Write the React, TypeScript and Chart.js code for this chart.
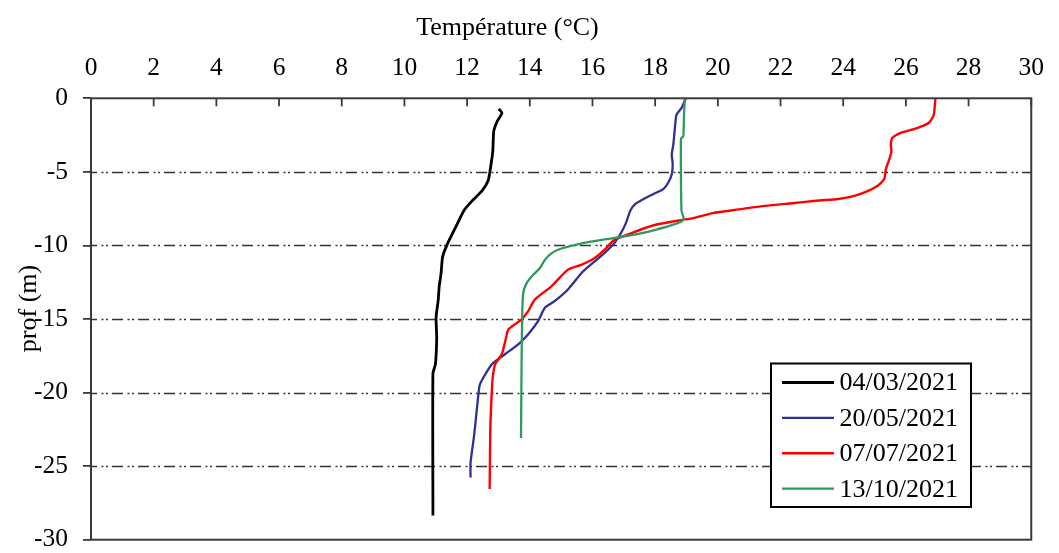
import React, { useEffect, useRef } from "react";
import { Chart, registerables } from "chart.js";

Chart.register(...registerables);

// ---- Data (temperature °C, depth m) ----
const labels = ["04/03/2021", "20/05/2021", "07/07/2021", "13/10/2021"];
const colors = ["#000000", "#303096", "#ff0000", "#2f9a5f"];

const temp0403 = [13.01, 13.11, 12.96, 12.85, 12.82, 12.74, 12.67, 12.48, 12.17, 11.9, 11.64, 11.38, 11.22, 11.17, 11.11, 11.08, 11.01, 11.03, 10.99, 10.91, 10.91];
const depth0403 = [-0.72, -1.01, -1.57, -2.25, -3.59, -4.82, -5.61, -6.28, -6.95, -7.62, -8.74, -9.86, -10.76, -11.88, -12.78, -13.68, -14.91, -16.25, -18.05, -18.72, -28.36];

const temp2005 = [18.98, 18.84, 18.68, 18.63, 18.58, 18.53, 18.56, 18.53, 18.42, 18.26, 17.95, 17.63, 17.37, 17.21, 17.06, 16.9, 16.69, 16.37, 16.06, 15.68, 15.21, 14.79, 14.48, 14.27, 13.95, 13.64, 13.22, 12.8, 12.53, 12.4, 12.32, 12.22, 12.11, 12.11];
const depth2005 = [0, -0.67, -1.12, -2.02, -3.14, -3.81, -4.49, -5.16, -5.72, -6.17, -6.5, -6.84, -7.18, -7.63, -8.52, -9.19, -9.87, -10.54, -11.1, -11.8, -13.01, -13.79, -14.24, -15.13, -16.03, -16.7, -17.38, -18.05, -18.94, -19.5, -20.96, -22.98, -24.77, -25.78];

const temp0707 = [26.94, 26.89, 26.73, 26.36, 25.84, 25.57, 25.52, 25.54, 25.47, 25.36, 25.31, 25.1, 24.68, 24.26, 23.84, 23.21, 22.37, 21.32, 20.26, 19.84, 19.21, 18.9, 17.95, 17.21, 16.69, 16.37, 16.06, 15.64, 15.21, 14.69, 14.16, 13.95, 13.74, 13.32, 13.22, 13.11, 12.9, 12.82, 12.78, 12.74, 12.72];
const depth0707 = [0, -1.12, -1.68, -2.02, -2.35, -2.69, -3.14, -3.59, -4.15, -4.82, -5.49, -5.94, -6.39, -6.68, -6.84, -6.95, -7.13, -7.36, -7.67, -7.8, -8.14, -8.25, -8.63, -9.19, -9.64, -10.32, -10.87, -11.32, -11.66, -12.78, -13.68, -14.46, -15.02, -15.7, -16.48, -17.38, -18.05, -18.94, -20.29, -22.53, -26.56];

const temp1310 = [18.95, 18.92, 18.9, 18.84, 18.82, 18.84, 18.9, 18.92, 18.68, 17.95, 17.21, 16.58, 15.64, 15.01, 14.69, 14.48, 14.32, 14.11, 13.9, 13.79, 13.76, 13.74, 13.72];
const depth1310 = [0, -1.12, -2.58, -2.69, -2.92, -7.63, -8.07, -8.25, -8.52, -8.97, -9.31, -9.53, -9.87, -10.21, -10.54, -10.99, -11.55, -12.0, -12.56, -13.23, -14.57, -17.6, -23.09];

const seriesTemps = [temp0403, temp2005, temp0707, temp1310];
const seriesDepths = [depth0403, depth2005, depth0707, depth1310];
const lineWidths = [2.8, 2.3, 2.4, 2.3];

const xTitle = "Température (°C)";
const yTitle = "prof (m)";

const FONT = '"Liberation Serif", "Times New Roman", serif';

const decorPlugin = {
  id: "decor",
  beforeDatasetsDraw(chart: any) {
    const { ctx, chartArea: a, scales } = chart;
    const ys = scales.y;
    ctx.save();
    ctx.strokeStyle = "#333333";
    ctx.lineWidth = 1.6;
    ctx.setLineDash([11, 4.5, 2, 2.5, 2, 4]);
    ctx.lineDashOffset = 5;
    for (const t of ys.ticks) {
      if (t.value <= ys.min || t.value >= ys.max) continue;
      const py = Math.round(ys.getPixelForValue(t.value)) + 0.5;
      ctx.beginPath();
      ctx.moveTo(a.left, py);
      ctx.lineTo(a.right, py);
      ctx.stroke();
    }
    ctx.restore();
  },
  afterDatasetsDraw(chart: any) {
    const { ctx, chartArea: a, scales } = chart;
    const xs = scales.x;
    ctx.save();
    // frame
    ctx.strokeStyle = "#3a3a3a";
    ctx.lineWidth = 2;
    ctx.setLineDash([]);
    ctx.strokeRect(a.left, a.top, a.right - a.left, a.bottom - a.top);
    // inward x ticks
    ctx.lineWidth = 1.8;
    for (const t of xs.ticks) {
      const px = xs.getPixelForValue(t.value);
      ctx.beginPath();
      ctx.moveTo(px, a.top);
      ctx.lineTo(px, a.top + 8);
      ctx.stroke();
    }
    // titles
    ctx.fillStyle = "#000";
    ctx.font = `26px ${FONT}`;
    ctx.textAlign = "center";
    ctx.textBaseline = "alphabetic";
    ctx.fillText(xTitle, 507.5, 35);
    ctx.save();
    ctx.translate(35.5, 308.5);
    ctx.rotate(-Math.PI / 2);
    ctx.fillText(yTitle, 0, 0);
    ctx.restore();
    // legend box
    const bx = 771, by = 363.5, bw = 200, bh = 143.5;
    ctx.fillStyle = "#fff";
    ctx.fillRect(bx, by, bw, bh);
    ctx.strokeStyle = "#000";
    ctx.lineWidth = 2;
    ctx.strokeRect(bx, by, bw, bh);
    ctx.font = `26px ${FONT}`;
    ctx.textAlign = "left";
    ctx.textBaseline = "middle";
    labels.forEach((lab, i) => {
      const ry = by + 19 + i * 35.4;
      ctx.strokeStyle = colors[i];
      ctx.lineWidth = lineWidths[i];
      ctx.beginPath();
      ctx.moveTo(bx + 11, ry);
      ctx.lineTo(bx + 63, ry);
      ctx.stroke();
      ctx.fillStyle = "#000";
      ctx.fillText(lab, bx + 68.5, ry + 1);
    });
    ctx.restore();
  },
};

export default function App() {
  const ref = useRef<HTMLCanvasElement | null>(null);
  useEffect(() => {
    document.body.style.margin = "0";
    document.body.style.overflow = "hidden";
    const canvas = ref.current;
    if (!canvas) return;
    const datasets = labels.map((lab, i) => ({
      label: lab,
      data: seriesTemps[i].map((t, j) => ({ x: t, y: seriesDepths[i][j] })),
      borderColor: colors[i],
      backgroundColor: colors[i],
      borderWidth: lineWidths[i],
      showLine: true,
      pointRadius: 0,
      tension: 0.2,
      fill: false,
      order: 3 - i,
    }));
    const chart = new Chart(canvas, {
      type: "scatter",
      data: { datasets },
      plugins: [decorPlugin],
      options: {
        animation: false,
        responsive: false,
        devicePixelRatio: 1,
        layout: { padding: { top: 0, left: 0, right: 17, bottom: 25.7 } },
        plugins: { legend: { display: false }, tooltip: { enabled: false } },
        scales: {
          x: {
            type: "linear",
            position: "top",
            min: 0,
            max: 30,
            ticks: { stepSize: 2, padding: 15, color: "#000", font: { family: FONT, size: 25.5 } },
            grid: { display: false, drawTicks: false },
            border: { display: false },
            afterFit: (s: any) => { s.height = 98.3; },
          },
          y: {
            type: "linear",
            min: -30,
            max: 0,
            ticks: { stepSize: 5, padding: 15, color: "#000", font: { family: FONT, size: 25.5 } },
            grid: { display: true, drawOnChartArea: false, drawTicks: true, tickLength: 8, color: "#3a3a3a", lineWidth: 1.8 },
            border: { display: false },
            afterFit: (s: any) => { s.width = 91; },
          },
        },
      },
    } as any);
    return () => chart.destroy();
  }, []);
  return (
    <div style={{ width: 1059, height: 553, overflow: "hidden", position: "relative" }}>
      <canvas ref={ref} width={1059} height={570} style={{ display: "block" }} />
    </div>
  );
}
